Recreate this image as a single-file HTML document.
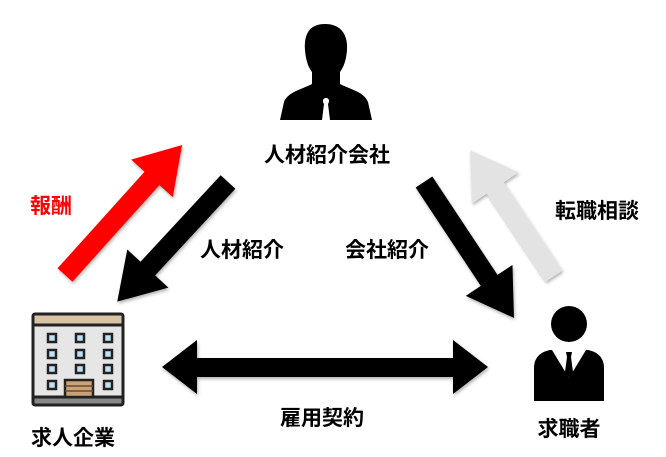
<!DOCTYPE html>
<html><head><meta charset="utf-8"><style>
html,body{margin:0;padding:0;background:#fff;}
svg{display:block}
text{font-family:"Liberation Sans","Noto Sans CJK JP",sans-serif;font-weight:bold;font-size:21px;}
</style></head><body>
<svg width="666" height="457" viewBox="0 0 666 457">
<defs><filter id="s" x="-20%" y="-20%" width="140%" height="140%"><feDropShadow dx="1" dy="2" stdDeviation="1.5" flood-color="#000" flood-opacity="0.3"/></filter></defs>
<g filter="url(#s)">
<polygon transform="translate(65,275) rotate(-48)" fill="#ff0000" points="0,-10 130,-10 130,-28 175,0 130,28 130,10 0,10"/>
<polygon transform="translate(228,182) rotate(132.8)" fill="#000" points="0,-10 118,-10 118,-28 163,0 118,28 118,10 0,10"/>
<polygon transform="translate(424,182) rotate(56.5)" fill="#000" points="0,-10 118,-10 118,-28 163,0 118,28 118,10 0,10"/>
<polygon transform="translate(554,276) rotate(-123.7)" fill="#e3e3e3" points="0,-10 106,-10 106,-28 151,0 106,28 106,10 0,10"/>
<polygon fill="#000" points="162,367 197,340 197,358 453,358 453,340 488,367 453,394 453,377 197,377 197,394"/>
</g>
<path fill="#000" d="M325,24 C308,24 304,36 305,50 C306,62 309,68 312,72 L312,84 C300,90 288,92 284,102 L280,120 L372,120 L368,102 C364,92 352,90 340,84 L340,72 C343,68 346,62 347,50 C348,36 342,24 325,24Z"/>
<path fill="#fff" d="M326,98 C323,98 322,101 324,104 L322,120 L330,120 L328,104 C330,101 329,98 326,98Z"/>
<text x="327" y="162" text-anchor="middle">人材紹介会社</text>
<rect x="33" y="316" width="90" height="88" rx="3" fill="#e6e6e6" stroke="#222" stroke-width="3"/>
<rect x="33" y="314" width="90" height="11" rx="2" fill="#d8c3a5" stroke="#222" stroke-width="3"/>
<rect x="33" y="397" width="90" height="8" rx="2" fill="#888" stroke="#222" stroke-width="3"/>
<g fill="#bfe3f5" stroke="#222" stroke-width="2.5">
<rect x="48" y="334" width="8" height="8"/><rect x="76" y="334" width="8" height="8"/><rect x="104" y="334" width="8" height="8"/>
<rect x="48" y="350" width="8" height="8"/><rect x="76" y="350" width="8" height="8"/><rect x="104" y="350" width="8" height="8"/>
<rect x="48" y="365" width="8" height="8"/><rect x="76" y="365" width="8" height="8"/><rect x="104" y="365" width="8" height="8"/>
<rect x="48" y="381" width="8" height="8"/><rect x="104" y="381" width="8" height="8"/>
</g>
<rect x="65" y="380" width="28" height="17" fill="#c9a27a" stroke="#222" stroke-width="2.5"/>
<line x1="65" y1="386" x2="93" y2="386" stroke="#6b4a2b" stroke-width="1.5"/>
<line x1="65" y1="391" x2="93" y2="391" stroke="#6b4a2b" stroke-width="1.5"/>
<text x="73" y="445" text-anchor="middle">求人企業</text>
<circle cx="569" cy="324" r="18" fill="#000"/>
<path fill="#000" d="M550,350 L588,350 C598,352 604,358 604,368 L604,401 L534,401 L534,368 C534,358 540,352 550,350Z"/>
<path fill="#fff" d="M552,350 L586,350 L569,378Z"/>
<path fill="#000" d="M566,352 L572,352 L571,357 L573,372 L569,378 L565,372 L567,357Z"/>
<text x="569" y="436" text-anchor="middle">求職者</text>
<text x="30" y="213" fill="#ff0000">報酬</text>
<text x="200" y="257">人材紹介</text>
<text x="345" y="257">会社紹介</text>
<text x="555" y="218">転職相談</text>
<text x="322" y="425" text-anchor="middle">雇用契約</text>
</svg>
</body></html>
